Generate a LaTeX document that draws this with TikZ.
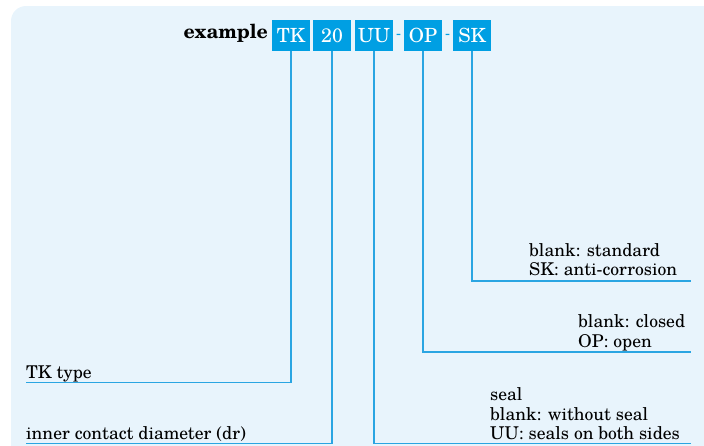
\documentclass[tikz,border=0pt]{standalone}
\usepackage{fontspec}
\setmainfont{TeX Gyre Schola}
\usepackage{tikz}
\usetikzlibrary{positioning, calc}

\definecolor{bgblue}{HTML}{E8F4FC}
\definecolor{codeblue}{HTML}{009FE3}
\definecolor{leadblue}{HTML}{2AA5E2}

\tikzset{
  codebox/.style={fill=codeblue, text=white, minimum width=38pt, minimum height=31pt,
    inner sep=0pt, font=\fontsize{19.5}{19.5}\selectfont},
  codedash/.style={text=codeblue, inner sep=0pt, font=\fontsize{15}{15}\selectfont},
  lead/.style={draw=leadblue, line width=1.3pt},
  label/.style={inner sep=0pt, align=left, anchor=base west,
    font=\fontsize{17.6}{19.3}\selectfont}
}

\begin{document}
\begin{tikzpicture}[x=1pt, y=-1pt]
    \useasboundingbox (0,0) rectangle (704,445);
    \clip (0,0) rectangle (704,445);
    % Background panel
    \fill[bgblue, rounded corners=15pt] (11,6) rectangle (720,470);
    % Code boxes
    \node[codebox] (tk) at (291,35.5) {TK};
    \node[codebox] (dia) at (332,35.5) {20};
    \node[codebox] (uu) at (374,35.5) {UU};
    \node[codedash] (d1) at (398.5,36) {-};
    \node[codebox] (op) at (423,35.5) {OP};
    \node[codedash] (d2) at (447.5,36) {-};
    \node[codebox] (sk) at (472,35.5) {SK};
    \node[anchor=base east, inner sep=0pt, font=\fontsize{19.5}{19.5}\selectfont\bfseries] (ex) at (268,38) {example};
    % Lead ends
    \coordinate (tkend) at (26,382.5);
    \coordinate (diaend) at (26,443.5);
    \coordinate (uuend) at (691,443.5);
    \coordinate (opend) at (691,352);
    \coordinate (skend) at (691,281);
    % Lead lines
    \draw[lead] (tk.south) |- (tkend);
    \draw[lead] (dia.south) |- (diaend);
    \draw[lead] (uu.south) |- (uuend);
    \draw[lead] (op.south) |- (opend);
    \draw[lead] (sk.south) |- (skend);
    % Labels
    \node[label] (tklab) at (26,378) {TK type};
    \node[label] (dialab) at (26,439) {inner contact diameter (dr)};
    \node[label] (sklab) at (529,275.7) {blank: standard\\SK: anti-corrosion};
    \node[label] (oplab) at (578,347) {blank: closed\\OP: open};
    \node[label] (uulab) at (490,439.3) {seal\\blank: without seal\\UU: seals on both sides};
\end{tikzpicture}
\end{document}
